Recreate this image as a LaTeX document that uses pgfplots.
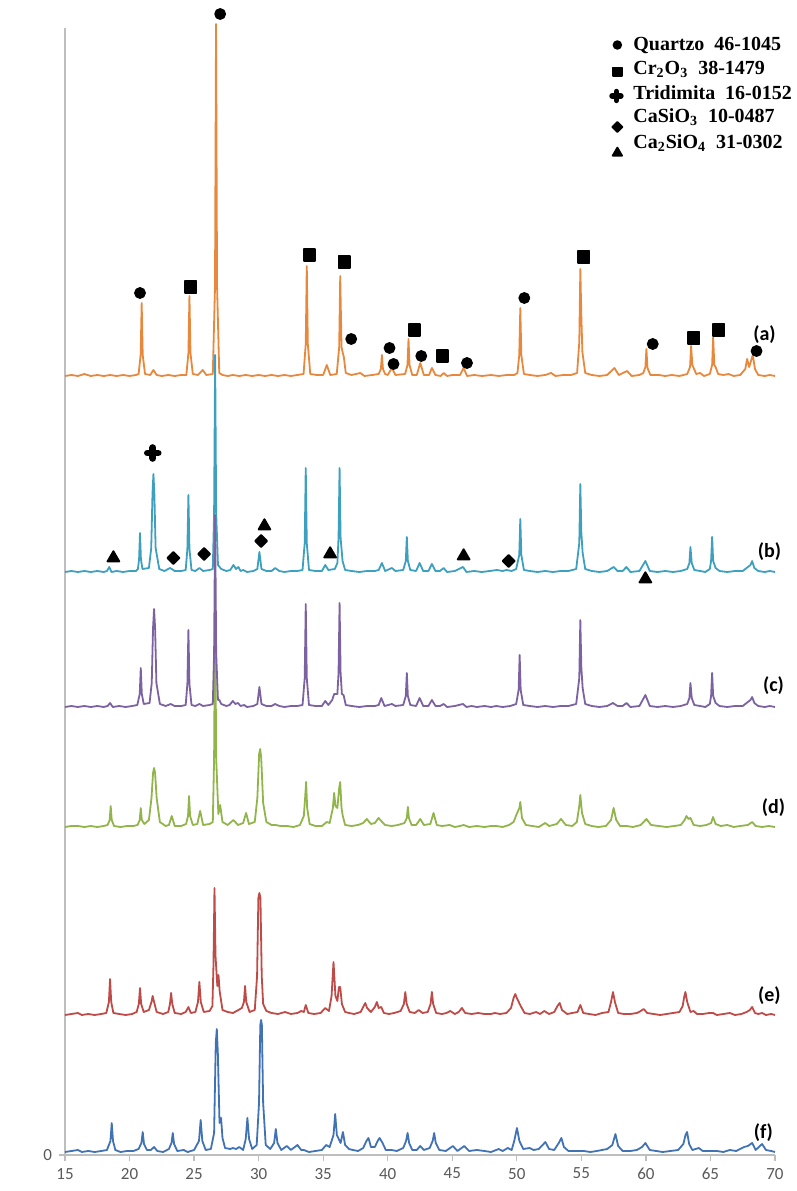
\documentclass[border=0pt]{standalone}
\usepackage{pgfplots}
\usepackage{pgfplotstable}
\pgfplotsset{compat=1.18}
\usepackage{fontspec}
\setmainfont{Carlito}
\newfontfamily\legfont{Liberation Serif}
\definecolor{cA}{RGB}{232,136,60}
\definecolor{cB}{RGB}{60,160,190}
\definecolor{cC}{RGB}{125,98,162}
\definecolor{cD}{RGB}{145,180,75}
\definecolor{cE}{RGB}{190,75,72}
\definecolor{cF}{RGB}{65,115,180}
\definecolor{tk}{RGB}{89,89,89}
\definecolor{ax}{RGB}{190,190,190}

\pgfplotstableread[row sep=\\]{
x I\\ 15.0 1\\ 15.5 2\\ 16.0 1\\ 16.5 3\\ 17.0 1\\ 17.5 2\\ 18.0 1\\ 18.5 2\\ 19.0 1\\ 19.5 2\\ 20.0 1\\ 20.5 2\\ 20.7 3\\ 20.86 22\\ 20.94 74\\ 21.02 22\\ 21.2 3\\ 21.6 2\\ 21.85 7\\ 22.1 2\\ 22.5 1\\ 23.0 2\\ 23.5 1\\ 24.0 2\\ 24.4 2\\ 24.56 24\\ 24.64 81\\ 24.72 24\\ 24.9 3\\ 25.3 2\\ 25.67 7\\ 25.95 2\\ 26.45 3\\ 26.62 90\\ 26.70 353\\ 26.78 90\\ 26.95 4\\ 27.2 2\\ 27.6 1\\ 28.0 2\\ 28.5 1\\ 29.0 2\\ 29.5 1\\ 30.0 2\\ 30.5 1\\ 31.0 2\\ 31.5 1\\ 32.0 2\\ 32.5 1\\ 33.0 2\\ 33.48 3\\ 33.65 33\\ 33.73 111\\ 33.81 33\\ 34.0 3\\ 34.5 2\\ 35.0 2\\ 35.28 12\\ 35.55 2\\ 36.05 3\\ 36.24 30\\ 36.32 101\\ 36.42 30\\ 36.52 24\\ 36.6 20\\ 36.75 4\\ 37.2 2\\ 37.87 4\\ 38.2 1\\ 38.8 2\\ 39.3 3\\ 39.47 8\\ 39.55 22\\ 39.63 8\\ 39.8 3\\ 40.0 2\\ 40.32 9\\ 40.6 2\\ 41.35 3\\ 41.53 12\\ 41.61 38\\ 41.69 12\\ 41.9 2\\ 42.25 2\\ 42.52 14\\ 42.8 2\\ 43.2 2\\ 43.42 9\\ 43.7 2\\ 44.1 1\\ 44.33 4\\ 44.6 1\\ 45.0 2\\ 45.6 2\\ 45.88 9\\ 46.15 1\\ 46.7 2\\ 47.3 1\\ 48.0 2\\ 48.6 1\\ 49.2 2\\ 49.8 2\\ 50.05 4\\ 50.19 22\\ 50.27 69\\ 50.35 22\\ 50.55 3\\ 51.0 2\\ 51.6 1\\ 52.2 2\\ 52.65 4\\ 53.0 1\\ 53.6 2\\ 54.2 2\\ 54.67 4\\ 54.84 35\\ 54.92 108\\ 55.0 60\\ 55.08 25\\ 55.3 4\\ 55.8 2\\ 56.4 1\\ 57.0 2\\ 57.56 9\\ 57.9 2\\ 58.54 6\\ 58.9 1\\ 59.5 2\\ 59.8 4\\ 59.96 10\\ 60.04 28\\ 60.12 9\\ 60.35 2\\ 61.0 2\\ 61.5 1\\ 62.0 2\\ 62.6 1\\ 63.2 3\\ 63.42 10\\ 63.5 31\\ 63.6 12\\ 63.7 9\\ 63.9 3\\ 64.2 4\\ 64.5 1\\ 64.95 3\\ 65.13 12\\ 65.21 40\\ 65.3 12\\ 65.4 10\\ 65.6 3\\ 66.0 2\\ 66.4 3\\ 66.8 1\\ 67.3 2\\ 67.7 8\\ 67.84 18\\ 68.0 10\\ 68.28 22\\ 68.45 8\\ 68.7 2\\ 69.2 1\\ 69.6 2\\ 70.0 1\\
}\tA

\pgfplotstableread[row sep=\\]{
x I\\ 15.0 1\\ 15.5 2\\ 16.0 1\\ 16.5 2\\ 17.0 1\\ 17.5 2\\ 18.0 1\\ 18.25 2\\ 18.43 6\\ 18.6 1\\ 19.0 2\\ 19.5 1\\ 20.0 2\\ 20.5 2\\ 20.65 4\\ 20.74 14\\ 20.81 40\\ 20.88 14\\ 21.0 4\\ 21.5 5\\ 21.68 25\\ 21.78 80\\ 21.85 99\\ 21.92 80\\ 22.02 25\\ 22.3 4\\ 22.7 2\\ 23.14 5\\ 23.5 2\\ 24.0 2\\ 24.35 3\\ 24.48 24\\ 24.56 78\\ 24.64 24\\ 24.8 3\\ 25.1 2\\ 25.41 5\\ 25.7 2\\ 26.2 3\\ 26.45 4\\ 26.55 60\\ 26.63 218\\ 26.71 60\\ 26.85 8\\ 27.1 4\\ 27.5 2\\ 27.8 3\\ 28.05 8\\ 28.25 4\\ 28.43 6\\ 28.6 2\\ 28.8 3\\ 29.1 1\\ 29.6 2\\ 29.9 4\\ 30.06 21\\ 30.22 4\\ 30.6 2\\ 31.0 2\\ 31.28 5\\ 31.6 2\\ 32.0 1\\ 32.5 2\\ 33.0 2\\ 33.4 3\\ 33.57 30\\ 33.65 105\\ 33.73 30\\ 33.9 3\\ 34.4 2\\ 34.9 2\\ 35.16 8\\ 35.4 3\\ 35.9 4\\ 36.1 10\\ 36.19 35\\ 36.27 105\\ 36.35 35\\ 36.5 12\\ 36.7 3\\ 37.2 2\\ 37.8 1\\ 38.4 2\\ 39.0 2\\ 39.3 3\\ 39.55 10\\ 39.8 2\\ 40.32 5\\ 40.6 2\\ 41.2 3\\ 41.4 12\\ 41.48 36\\ 41.56 12\\ 41.75 3\\ 42.2 2\\ 42.47 10\\ 42.75 2\\ 43.15 2\\ 43.42 9\\ 43.7 2\\ 44.05 2\\ 44.33 5\\ 44.6 1\\ 45.2 2\\ 45.83 6\\ 46.1 1\\ 46.7 2\\ 47.3 1\\ 47.9 2\\ 48.46 3\\ 48.9 2\\ 49.2 3\\ 49.6 2\\ 49.95 4\\ 50.19 18\\ 50.27 54\\ 50.35 18\\ 50.55 3\\ 51.0 2\\ 51.6 1\\ 52.2 2\\ 52.8 1\\ 53.4 2\\ 54.0 2\\ 54.6 4\\ 54.84 30\\ 54.92 89\\ 55.0 40\\ 55.1 20\\ 55.3 4\\ 55.8 2\\ 56.4 1\\ 57.0 2\\ 57.5 6\\ 57.8 2\\ 58.2 2\\ 58.49 6\\ 58.8 1\\ 59.5 2\\ 59.96 12\\ 60.3 2\\ 60.9 1\\ 61.5 2\\ 62.1 1\\ 62.7 2\\ 63.2 4\\ 63.37 10\\ 63.45 26\\ 63.55 10\\ 63.75 3\\ 64.2 2\\ 64.6 1\\ 64.95 4\\ 65.05 12\\ 65.13 36\\ 65.21 12\\ 65.4 5\\ 65.7 2\\ 66.3 1\\ 66.9 2\\ 67.5 2\\ 67.9 6\\ 68.1 8\\ 68.23 12\\ 68.4 5\\ 68.7 2\\ 69.2 1\\ 69.6 2\\ 70.0 1\\
}\tB

\pgfplotstableread[row sep=\\]{
x I\\ 15.0 1\\ 15.5 2\\ 16.0 1\\ 16.5 2\\ 17.0 1\\ 17.5 2\\ 18.0 1\\ 18.3 2\\ 18.49 5\\ 18.7 1\\ 19.2 2\\ 19.7 1\\ 20.2 2\\ 20.6 3\\ 20.79 14\\ 20.87 40\\ 20.95 14\\ 21.1 4\\ 21.55 5\\ 21.72 25\\ 21.82 80\\ 21.9 99\\ 21.98 80\\ 22.08 25\\ 22.35 4\\ 22.8 2\\ 23.19 4\\ 23.5 2\\ 24.0 2\\ 24.35 3\\ 24.48 24\\ 24.56 78\\ 24.64 24\\ 24.8 3\\ 25.1 2\\ 25.41 4\\ 25.7 2\\ 26.2 3\\ 26.45 4\\ 26.55 55\\ 26.63 193\\ 26.71 55\\ 26.85 8\\ 26.96 8\\ 27.1 4\\ 27.5 2\\ 27.75 3\\ 28.0 7\\ 28.2 4\\ 28.4 5\\ 28.6 2\\ 28.88 3\\ 29.1 1\\ 29.6 2\\ 29.9 4\\ 30.06 21\\ 30.22 4\\ 30.6 2\\ 31.0 2\\ 31.28 4\\ 31.6 2\\ 32.0 1\\ 32.5 2\\ 33.0 2\\ 33.4 3\\ 33.57 30\\ 33.65 104\\ 33.73 30\\ 33.9 3\\ 34.4 2\\ 34.9 2\\ 35.16 7\\ 35.4 3\\ 35.7 8\\ 35.85 14\\ 36.1 14\\ 36.19 35\\ 36.27 105\\ 36.35 35\\ 36.45 14\\ 36.58 13\\ 36.75 3\\ 37.2 2\\ 37.8 1\\ 38.4 2\\ 39.0 2\\ 39.3 3\\ 39.5 10\\ 39.75 2\\ 40.32 4\\ 40.6 2\\ 41.2 3\\ 41.4 12\\ 41.48 35\\ 41.56 12\\ 41.75 3\\ 42.2 2\\ 42.47 10\\ 42.75 2\\ 43.15 2\\ 43.42 8\\ 43.7 2\\ 44.05 2\\ 44.33 4\\ 44.6 1\\ 45.2 2\\ 45.83 4\\ 46.1 1\\ 46.5 2\\ 46.9 1\\ 47.5 2\\ 48.0 1\\ 48.41 2\\ 48.9 1\\ 49.5 2\\ 49.95 4\\ 50.14 18\\ 50.22 53\\ 50.3 18\\ 50.5 3\\ 51.0 2\\ 51.6 1\\ 52.2 2\\ 52.8 1\\ 53.4 2\\ 54.0 2\\ 54.6 4\\ 54.84 30\\ 54.92 88\\ 55.0 40\\ 55.1 20\\ 55.3 4\\ 55.8 2\\ 56.4 1\\ 57.0 2\\ 57.45 5\\ 57.8 2\\ 58.2 2\\ 58.5 5\\ 58.8 1\\ 59.5 2\\ 59.96 13\\ 60.3 2\\ 60.9 1\\ 61.5 2\\ 62.1 1\\ 62.7 2\\ 63.2 4\\ 63.37 10\\ 63.45 25\\ 63.55 10\\ 63.75 3\\ 64.2 2\\ 64.6 1\\ 64.95 4\\ 65.05 12\\ 65.13 35\\ 65.21 12\\ 65.4 5\\ 65.7 2\\ 66.3 1\\ 66.9 2\\ 67.5 2\\ 67.9 6\\ 68.1 8\\ 68.23 11\\ 68.4 5\\ 68.7 2\\ 69.2 1\\ 69.6 2\\ 70.0 1\\
}\tC

\pgfplotstableread[row sep=\\]{
x I\\ 15.0 1\\ 15.5 2\\ 16.0 2\\ 16.5 1\\ 17.0 2\\ 17.5 1\\ 18.0 2\\ 18.3 3\\ 18.46 8\\ 18.54 22\\ 18.62 8\\ 18.8 2\\ 19.3 1\\ 19.8 2\\ 20.3 2\\ 20.62 3\\ 20.79 8\\ 20.87 20\\ 20.95 8\\ 21.15 4\\ 21.5 8\\ 21.7 30\\ 21.82 55\\ 21.9 60\\ 21.98 55\\ 22.1 30\\ 22.35 6\\ 22.8 2\\ 23.05 3\\ 23.27 12\\ 23.5 2\\ 24.0 2\\ 24.38 4\\ 24.53 12\\ 24.61 32\\ 24.69 12\\ 24.9 3\\ 25.25 4\\ 25.47 17\\ 25.7 3\\ 26.2 4\\ 26.45 6\\ 26.55 70\\ 26.63 231\\ 26.71 70\\ 26.88 14\\ 27.02 23\\ 27.2 6\\ 27.6 3\\ 28.05 8\\ 28.4 3\\ 28.8 5\\ 29.03 15\\ 29.25 4\\ 29.7 6\\ 29.9 30\\ 30.04 74\\ 30.12 79\\ 30.2 70\\ 30.35 25\\ 30.6 6\\ 31.0 3\\ 31.3 3\\ 31.7 2\\ 32.2 2\\ 32.7 1\\ 33.2 3\\ 33.5 12\\ 33.6 30\\ 33.68 46\\ 33.76 20\\ 33.95 4\\ 34.4 2\\ 34.9 2\\ 35.28 6\\ 35.5 5\\ 35.75 20\\ 35.85 35\\ 35.95 22\\ 36.1 20\\ 36.24 40\\ 36.32 46\\ 36.42 20\\ 36.52 12\\ 36.7 3\\ 37.2 2\\ 37.7 3\\ 38.1 5\\ 38.38 9\\ 38.7 4\\ 39.0 5\\ 39.29 10\\ 39.5 7\\ 39.8 3\\ 40.3 2\\ 40.8 3\\ 41.3 5\\ 41.48 10\\ 41.56 21\\ 41.64 10\\ 41.85 3\\ 42.2 3\\ 42.52 9\\ 42.8 3\\ 43.3 4\\ 43.55 15\\ 43.8 3\\ 44.2 2\\ 44.8 3\\ 45.2 1\\ 45.6 2\\ 45.88 3\\ 46.3 1\\ 46.9 2\\ 47.5 1\\ 48.0 2\\ 48.4 2\\ 48.9 1\\ 49.4 3\\ 49.75 6\\ 49.96 13\\ 50.2 20\\ 50.27 26\\ 50.4 10\\ 50.7 3\\ 51.2 2\\ 51.7 1\\ 52.2 5\\ 52.5 2\\ 53.1 4\\ 53.42 9\\ 53.8 3\\ 54.3 2\\ 54.65 6\\ 54.84 22\\ 54.92 33\\ 55.05 15\\ 55.3 4\\ 55.8 2\\ 56.3 1\\ 56.9 2\\ 57.3 8\\ 57.5 20\\ 57.7 8\\ 58.0 2\\ 58.5 2\\ 59.0 1\\ 59.6 3\\ 60.04 9\\ 60.4 3\\ 61.0 2\\ 61.6 1\\ 62.2 2\\ 62.7 3\\ 63.0 8\\ 63.14 12\\ 63.3 9\\ 63.45 10\\ 63.7 3\\ 64.2 2\\ 64.7 3\\ 65.05 5\\ 65.2 11\\ 65.4 4\\ 65.8 2\\ 66.3 3\\ 66.8 1\\ 67.3 2\\ 67.9 3\\ 68.23 6\\ 68.5 2\\ 69.0 1\\ 69.5 2\\ 70.0 1\\
}\tD

\pgfplotstableread[row sep=\\]{
x I\\ 15.0 1\\ 15.5 2\\ 16.0 3\\ 16.3 1\\ 16.8 2\\ 17.3 1\\ 17.8 2\\ 18.2 3\\ 18.4 14\\ 18.49 37\\ 18.58 14\\ 18.75 3\\ 19.2 2\\ 19.7 1\\ 20.2 2\\ 20.55 4\\ 20.72 12\\ 20.81 28\\ 20.9 12\\ 21.1 4\\ 21.5 6\\ 21.7 14\\ 21.79 20\\ 21.9 14\\ 22.1 4\\ 22.6 2\\ 23.0 4\\ 23.13 12\\ 23.22 23\\ 23.31 12\\ 23.5 3\\ 24.0 2\\ 24.35 4\\ 24.56 9\\ 24.75 3\\ 25.1 4\\ 25.3 14\\ 25.41 34\\ 25.52 14\\ 25.75 4\\ 26.2 5\\ 26.42 10\\ 26.5 50\\ 26.58 128\\ 26.66 60\\ 26.8 30\\ 26.89 41\\ 26.98 25\\ 27.2 6\\ 27.6 4\\ 28.0 3\\ 28.3 5\\ 28.7 8\\ 28.86 14\\ 28.95 30\\ 29.04 14\\ 29.3 4\\ 29.7 6\\ 29.88 40\\ 29.98 118\\ 30.06 123\\ 30.14 118\\ 30.24 40\\ 30.35 12\\ 30.6 5\\ 31.0 3\\ 31.5 2\\ 32.05 4\\ 32.5 2\\ 33.0 3\\ 33.3 5\\ 33.5 4\\ 33.65 11\\ 33.85 3\\ 34.3 2\\ 34.8 3\\ 35.16 8\\ 35.45 5\\ 35.65 20\\ 35.8 54\\ 35.95 20\\ 36.1 15\\ 36.22 29\\ 36.32 29\\ 36.45 12\\ 36.7 4\\ 37.0 3\\ 37.4 2\\ 37.9 4\\ 38.1 9\\ 38.26 13\\ 38.4 8\\ 38.7 4\\ 39.0 9\\ 39.16 14\\ 39.3 8\\ 39.5 9\\ 39.7 3\\ 40.1 2\\ 40.5 3\\ 41.0 5\\ 41.25 12\\ 41.36 24\\ 41.47 12\\ 41.7 4\\ 42.1 3\\ 42.4 6\\ 42.7 3\\ 43.1 4\\ 43.32 12\\ 43.42 24\\ 43.52 12\\ 43.75 3\\ 44.2 2\\ 44.55 3\\ 44.84 5\\ 45.2 2\\ 45.5 4\\ 45.75 8\\ 46.0 3\\ 46.5 2\\ 47.0 3\\ 47.5 2\\ 48.0 2\\ 48.3 3\\ 48.7 2\\ 49.2 3\\ 49.55 8\\ 49.75 18\\ 49.88 22\\ 50.0 18\\ 50.3 10\\ 50.6 3\\ 51.0 2\\ 51.5 4\\ 51.8 2\\ 52.13 5\\ 52.5 2\\ 52.9 4\\ 53.15 10\\ 53.32 13\\ 53.5 6\\ 53.9 2\\ 54.3 3\\ 54.7 4\\ 54.92 11\\ 55.15 3\\ 55.6 2\\ 56.1 1\\ 56.6 3\\ 57.1 4\\ 57.3 14\\ 57.45 24\\ 57.6 14\\ 57.85 3\\ 58.3 2\\ 58.8 2\\ 59.3 3\\ 59.6 5\\ 59.83 7\\ 60.1 3\\ 60.6 2\\ 61.1 1\\ 61.6 2\\ 62.1 3\\ 62.6 4\\ 62.85 10\\ 62.98 20\\ 63.06 24\\ 63.2 14\\ 63.45 4\\ 63.7 5\\ 63.95 2\\ 64.4 2\\ 64.9 3\\ 65.2 3\\ 65.5 1\\ 66.0 2\\ 66.5 3\\ 66.9 1\\ 67.4 2\\ 67.8 4\\ 68.05 6\\ 68.23 9\\ 68.45 3\\ 68.7 2\\ 69.0 3\\ 69.3 1\\ 69.7 2\\ 70.0 1\\
}\tE

\pgfplotstableread[row sep=\\]{
x I\\ 15.0 1\\ 15.5 2\\ 16.0 3\\ 16.3 1\\ 16.8 2\\ 17.3 1\\ 17.8 2\\ 18.25 3\\ 18.52 12\\ 18.62 30\\ 18.72 12\\ 18.9 3\\ 19.3 1\\ 19.8 2\\ 20.3 2\\ 20.7 4\\ 20.92 10\\ 21.02 21\\ 21.12 9\\ 21.35 3\\ 21.65 3\\ 21.9 6\\ 22.15 2\\ 22.6 1\\ 23.05 4\\ 23.25 10\\ 23.35 20\\ 23.45 9\\ 23.7 2\\ 24.2 3\\ 24.5 1\\ 25.0 3\\ 25.38 12\\ 25.51 33\\ 25.64 12\\ 25.9 3\\ 26.3 4\\ 26.55 20\\ 26.68 110\\ 26.76 124\\ 26.84 100\\ 26.97 30\\ 27.09 35\\ 27.2 15\\ 27.4 5\\ 27.8 4\\ 28.0 5\\ 28.25 4\\ 28.5 6\\ 28.8 3\\ 29.0 14\\ 29.13 35\\ 29.26 14\\ 29.5 4\\ 29.85 8\\ 30.03 50\\ 30.13 128\\ 30.19 133\\ 30.25 128\\ 30.35 50\\ 30.55 8\\ 30.9 4\\ 31.2 10\\ 31.33 24\\ 31.46 10\\ 31.75 3\\ 32.18 7\\ 32.5 3\\ 33.01 8\\ 33.3 3\\ 33.5 3\\ 33.9 1\\ 34.4 2\\ 34.9 3\\ 35.23 8\\ 35.5 6\\ 35.8 18\\ 35.93 39\\ 36.06 18\\ 36.35 10\\ 36.53 21\\ 36.7 8\\ 37.0 4\\ 37.3 3\\ 37.7 2\\ 38.1 5\\ 38.35 12\\ 38.51 15\\ 38.7 6\\ 39.0 6\\ 39.22 12\\ 39.37 15\\ 39.6 10\\ 39.85 3\\ 40.3 3\\ 40.7 2\\ 41.2 5\\ 41.42 12\\ 41.54 20\\ 41.66 10\\ 41.9 3\\ 42.25 3\\ 42.52 7\\ 42.8 3\\ 43.25 5\\ 43.48 12\\ 43.6 20\\ 43.72 10\\ 44.0 3\\ 44.5 2\\ 45.05 7\\ 45.4 2\\ 45.93 7\\ 46.3 2\\ 46.9 3\\ 47.5 2\\ 48.0 1\\ 48.6 4\\ 48.9 2\\ 49.3 5\\ 49.6 3\\ 49.8 12\\ 50.01 25\\ 50.2 12\\ 50.5 4\\ 51.0 5\\ 51.3 3\\ 51.7 4\\ 52.0 8\\ 52.21 11\\ 52.5 4\\ 52.9 3\\ 53.25 10\\ 53.45 15\\ 53.65 6\\ 54.0 2\\ 54.5 2\\ 55.2 2\\ 55.7 1\\ 56.2 2\\ 57.0 4\\ 57.4 8\\ 57.64 19\\ 57.85 7\\ 58.2 2\\ 58.8 2\\ 59.3 3\\ 59.7 6\\ 59.96 10\\ 60.3 3\\ 60.8 2\\ 61.3 1\\ 61.9 2\\ 62.5 3\\ 62.9 9\\ 63.07 18\\ 63.19 21\\ 63.35 9\\ 63.6 3\\ 64.1 5\\ 64.4 2\\ 65.0 2\\ 65.5 2\\ 66.0 1\\ 66.5 3\\ 67.0 2\\ 67.6 6\\ 67.9 7\\ 68.23 10\\ 68.5 3\\ 69.0 9\\ 69.3 3\\ 69.7 2\\ 70.0 1\\
}\tF

\begin{document}
\begin{tikzpicture}
\begin{axis}[
  scale only axis, width=355pt, height=563.5pt,
  xmin=15, xmax=70, ymin=0, ymax=1127,
  axis x line*=bottom, axis y line*=left,
  axis line style={ax, line width=0.6pt},
  xtick={15,20,...,70}, ytick={0},
  tick align=outside, major tick length=3pt,
  tick style={ax, line width=0.6pt},
  ticklabel style={font=\fontsize{8.5}{10}\selectfont, text=tk},
  /pgf/number format/assume math mode=true,
  clip=false,
  every axis plot/.append style={line width=0.9pt, line join=round},
]
\addplot[cA, mark=none] table[x=x, y expr=\thisrow{I}+778] {\tA};
\addplot[cB, mark=none] table[x=x, y expr=\thisrow{I}+582] {\tB};
\addplot[cD, mark=none] table[x=x, y expr=\thisrow{I}+327] {\tD};
\addplot[cC, mark=none] table[x=x, y expr=\thisrow{I}+447] {\tC};
\addplot[cE, mark=none] table[x=x, y expr=\thisrow{I}+139] {\tE};
\addplot[cF, mark=none] table[x=x, y expr=\thisrow{I}+2] {\tF};

% phase markers
\addplot[only marks, mark=*, mark size=2.5pt, black] coordinates {
 (27.02,1141) (20.81,862) (37.17,816) (40.14,807) (40.45,791) (42.6,799)
 (46.14,792) (50.58,857) (60.53,811) (68.57,804)};
\addplot[only marks, mark=square*, mark size=2.9pt, black] coordinates {
 (24.74,868) (33.94,900) (36.63,893) (42.08,825) (44.25,799) (55.18,898)
 (63.71,817) (65.64,825)};
\addplot[only marks, mark=+, mark size=2.7pt, black, mark options={line width=3.4pt, line cap=round}] coordinates {(21.80,702)};
\addplot[only marks, mark=square*, mark size=2.1pt, black, mark options={rotate=45}] coordinates {
 (23.40,597) (25.78,601) (30.19,614) (49.37,594)};
\addplot[only marks, mark=triangle*, mark size=3.4pt, black] coordinates {
 (18.75,597) (30.45,629) (35.54,601) (45.88,599) (59.96,576)};

% legend markers
\addplot[only marks, mark=*, mark size=1.9pt, black] coordinates {(57.79,1110)};
\addplot[only marks, mark=square*, mark size=2.2pt, black] coordinates {(57.79,1083)};
\addplot[only marks, mark=+, mark size=2.2pt, black, mark options={line width=2.8pt, line cap=round}] coordinates {(57.72,1059)};
\addplot[only marks, mark=square*, mark size=1.8pt, black, mark options={rotate=45}] coordinates {(57.79,1028)};
\addplot[only marks, mark=triangle*, mark size=2.7pt, black] coordinates {(57.79,1002)};

\begin{scope}[every node/.style={anchor=west, inner sep=0pt, font=\legfont\bfseries\fontsize{10}{12}\selectfont}]
\node at (axis cs:59.0,1110) {Quartzo\ \ 46-1045};
\node at (axis cs:59.0,1086) {Cr\textsubscript{2}O\textsubscript{3}\ \ 38-1479};
\node at (axis cs:59.0,1062) {Tridimita\ \ 16-0152};
\node at (axis cs:59.0,1038) {CaSiO\textsubscript{3}\ \ 10-0487};
\node at (axis cs:59.0,1012) {Ca\textsubscript{2}SiO\textsubscript{4}\ \ 31-0302};
\end{scope}

\begin{scope}[every node/.style={inner sep=0pt, font=\bfseries\fontsize{10}{12}\selectfont, text=black}]
\node at (axis cs:69.19,820) {(a)};
\node at (axis cs:69.57,603) {(b)};
\node at (axis cs:69.88,469) {(c)};
\node at (axis cs:69.88,347) {(d)};
\node at (axis cs:69.57,159) {(e)};
\node at (axis cs:69.10,22) {(f)};
\end{scope}
\end{axis}
\pgfresetboundingbox
\path ([shift={(-32.5pt,-18pt)}]current axis.south west) rectangle ([shift={(366pt,577.5pt)}]current axis.south west);
\end{tikzpicture}
\end{document}
